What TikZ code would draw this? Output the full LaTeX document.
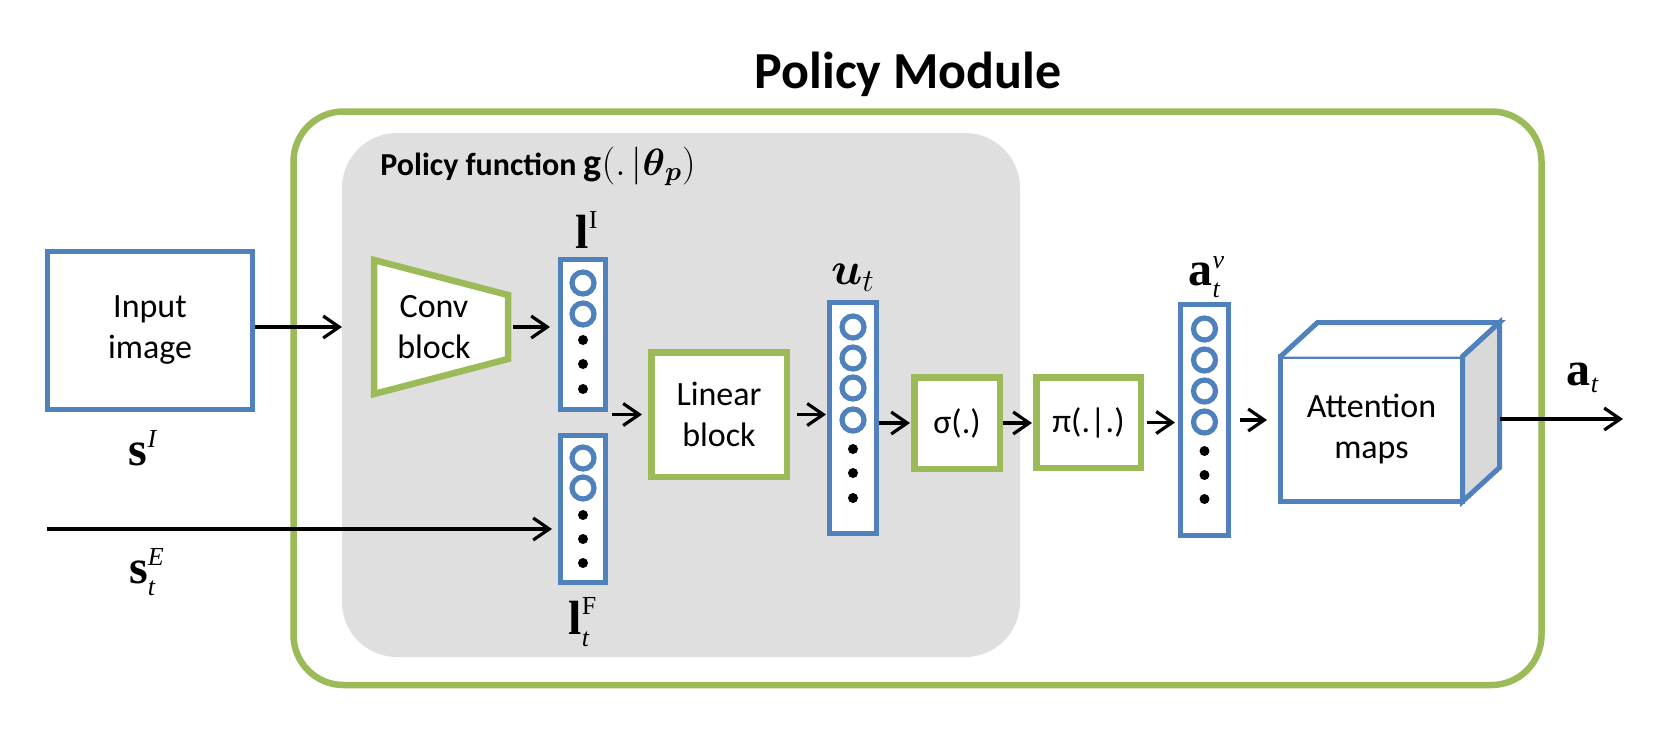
\RequirePackage{fix-cm}
\documentclass[tikz,border=0pt]{standalone}
\usepackage{amsmath}
\usepackage{fontspec}
\setmainfont{Carlito}
\newfontfamily\tms{Liberation Serif}
\usetikzlibrary{arrows.meta,calc}
\definecolor{mblue}{RGB}{79,129,189}
\definecolor{mgreen}{RGB}{155,187,89}
\definecolor{panelgray}{RGB}{223,223,223}
\definecolor{sidegray}{RGB}{217,217,217}
\newcommand{\lblscr}[1]{\text{\fontsize{13}{13}\selectfont #1}}
\tikzset{
	arr/.style={-{Straight Barb[length=8pt,width=11pt]},line width=1.6pt},
	bbox/.style={draw=mblue,line width=2.5pt,fill=white},
	gbox/.style={draw=mgreen,line width=3.25pt,fill=white},
	vecbox/.style={bbox,minimum width=22.5pt,inner sep=0pt},
	ring/.style={draw=mblue,line width=2.6pt},
	txt/.style={font=\fontsize{17}{20.5}\selectfont,align=center},
	lbl/.style={font=\tms\fontsize{24}{28}\selectfont,inner sep=0pt},
}
\begin{document}
\begin{tikzpicture}[x=0.5pt,y=-0.5pt]
		\useasboundingbox (0,0) rectangle (1676,741);
		% frames
		\draw[mgreen,line width=3.25pt,rounded corners=25pt] (293.5,111.5) rectangle (1541.5,685);
		\fill[panelgray,rounded corners=27.5pt] (342,133) rectangle (1020,657);
		\node[font=\bfseries\fontsize{26}{30}\selectfont,anchor=base] (title) at (908,88) {Policy Module};
		\node[font=\bfseries\fontsize{16}{19}\selectfont,anchor=base west,inner sep=0pt] (pfun) at (380,175) {Policy function {\fontsize{19}{22}\selectfont$\mathbf{g}(.\,|\boldsymbol{\theta}_{\boldsymbol{p}})$}};
		% input
		\node[bbox,txt,minimum width=102.5pt,minimum height=79pt] (inp) at (150,330.5) {Input\\image};
		\node[lbl] (sI) at (143,448) {$\textbf{s}^{\lblscr{\itshape I}}$};
		\coordinate (sEin) at (47,529);
		\node[lbl] (sE) at (147,572) {$\textbf{s}^{\lblscr{\itshape E}}_{\lblscr{\itshape t}}$};
		% conv block
		\draw[gbox,line join=miter] (374,260) -- (508,295) -- (508,359) -- (374,394) -- cycle;
		\coordinate (convW) at (374,327);
		\coordinate (convE) at (508,327);
		\node[txt] (conv) at (434,327) {Conv\\block};
		% vectors
		\node[vecbox,minimum height=75pt] (lI) at (583,334.5) {};
		\node[vecbox,minimum height=73.5pt] (lF) at (583,509) {};
		\node[vecbox,minimum width=23.5pt,minimum height=115.5pt] (u) at (853,418) {};
		\node[vecbox,minimum width=24pt,minimum height=115.5pt] (av) at (1204.5,420) {};
		\foreach \d in {26,57} \draw[ring] ($(lI.north)+(0,\d)$) circle (5.5pt);
		\foreach \d in {83,107,132} \fill ($(lI.north)+(0,\d)$) circle (2.5pt);
		\foreach \d in {25,55} \draw[ring] ($(lF.north)+(0,\d)$) circle (5.5pt);
		\foreach \d in {82,106,130} \fill ($(lF.north)+(0,\d)$) circle (2.5pt);
		\foreach \d in {27,58,88,120} \draw[ring] ($(u.north)+(0,\d)$) circle (5.5pt);
		\foreach \d in {149,173,198} \fill ($(u.north)+(0,\d)$) circle (2.5pt);
		\foreach \d in {27,58,89,120} \draw[ring] ($(av.north)+(0,\d)$) circle (5.5pt);
		\foreach \d in {149,173,197} \fill ($(av.north)+(0,\d)$) circle (2.5pt);
		\node[lbl] (lIl) at (587,230) {$\textbf{l}^{\lblscr{I}}$};
		\node[lbl] (lFl) at (583,622) {$\textbf{l}^{\lblscr{F}}_{\lblscr{\itshape t}}$};
		\node[font=\fontsize{23}{26}\selectfont,inner sep=0pt] (ul) at (853,278) {$\boldsymbol{u}_t$};
		\node[lbl] (avl) at (1207,277) {$\textbf{a}^{\lblscr{\itshape v}}_{\lblscr{\itshape t}}$};
		% blocks
		\node[gbox,txt,minimum width=67.75pt,minimum height=62.25pt] (lin) at (719,414.5) {Linear\\block};
		\node[gbox,txt,minimum width=42.75pt,minimum height=45.75pt] (sig) at (957,423) {σ(.)};
		\node[gbox,txt,minimum width=52.25pt,minimum height=45.25pt] (pi) at (1088.5,422.5) {π(.|.)};
		\node[bbox,txt,minimum width=91pt,minimum height=72.5pt,outer sep=0pt] (att) at (1371.5,429) {Attention\\maps};
		\draw[bbox] (att.north west) -- ++(37,-34) -- ++(182,0) -- (att.north east);
		\filldraw[bbox,fill=sidegray] (att.north east) -- ++(37,-34) -- ++(0,145) -- (att.south east) -- cycle;
		\coordinate (attside) at ($(att.east)+(37,-10)$);
		\coordinate (out) at (1623,419);
		\node[lbl] (atl) at (1583,378) {$\textbf{a}_{\lblscr{\itshape t}}$};
		% arrows
		\draw[arr,shorten >=16pt] (inp.east |- convW) -- (convW);
		\draw[arr,shorten <=2.5pt,shorten >=4pt] (convE) -- (lI.west |- convE);
		\draw[arr,shorten >=3pt] (sEin) -- (lF.west |- sEin);
		\draw[arr,shorten >=3pt] ($(lI.east |- lin.west)+(4,0)$) -- (lin.west);
		\draw[arr,shorten <=3.5pt,shorten >=0.5pt] (lin.east) -- (lin.east -| u.west);
		\draw[arr,shorten >=0.5pt] (u.east |- sig.west) -- (sig.west);
		\draw[arr,shorten >=0.5pt] (sig.east) -- (sig.east -| pi.west);
		\draw[arr,shorten <=1.5pt,shorten >=1.5pt] (pi.east) -- (pi.east -| av.west);
		\draw[arr,shorten <=4.5pt,shorten >=6.75pt] (av.east) -- (av.east -| att.west);
		\draw[arr] (attside) -- (out);
\end{tikzpicture}
\end{document}
